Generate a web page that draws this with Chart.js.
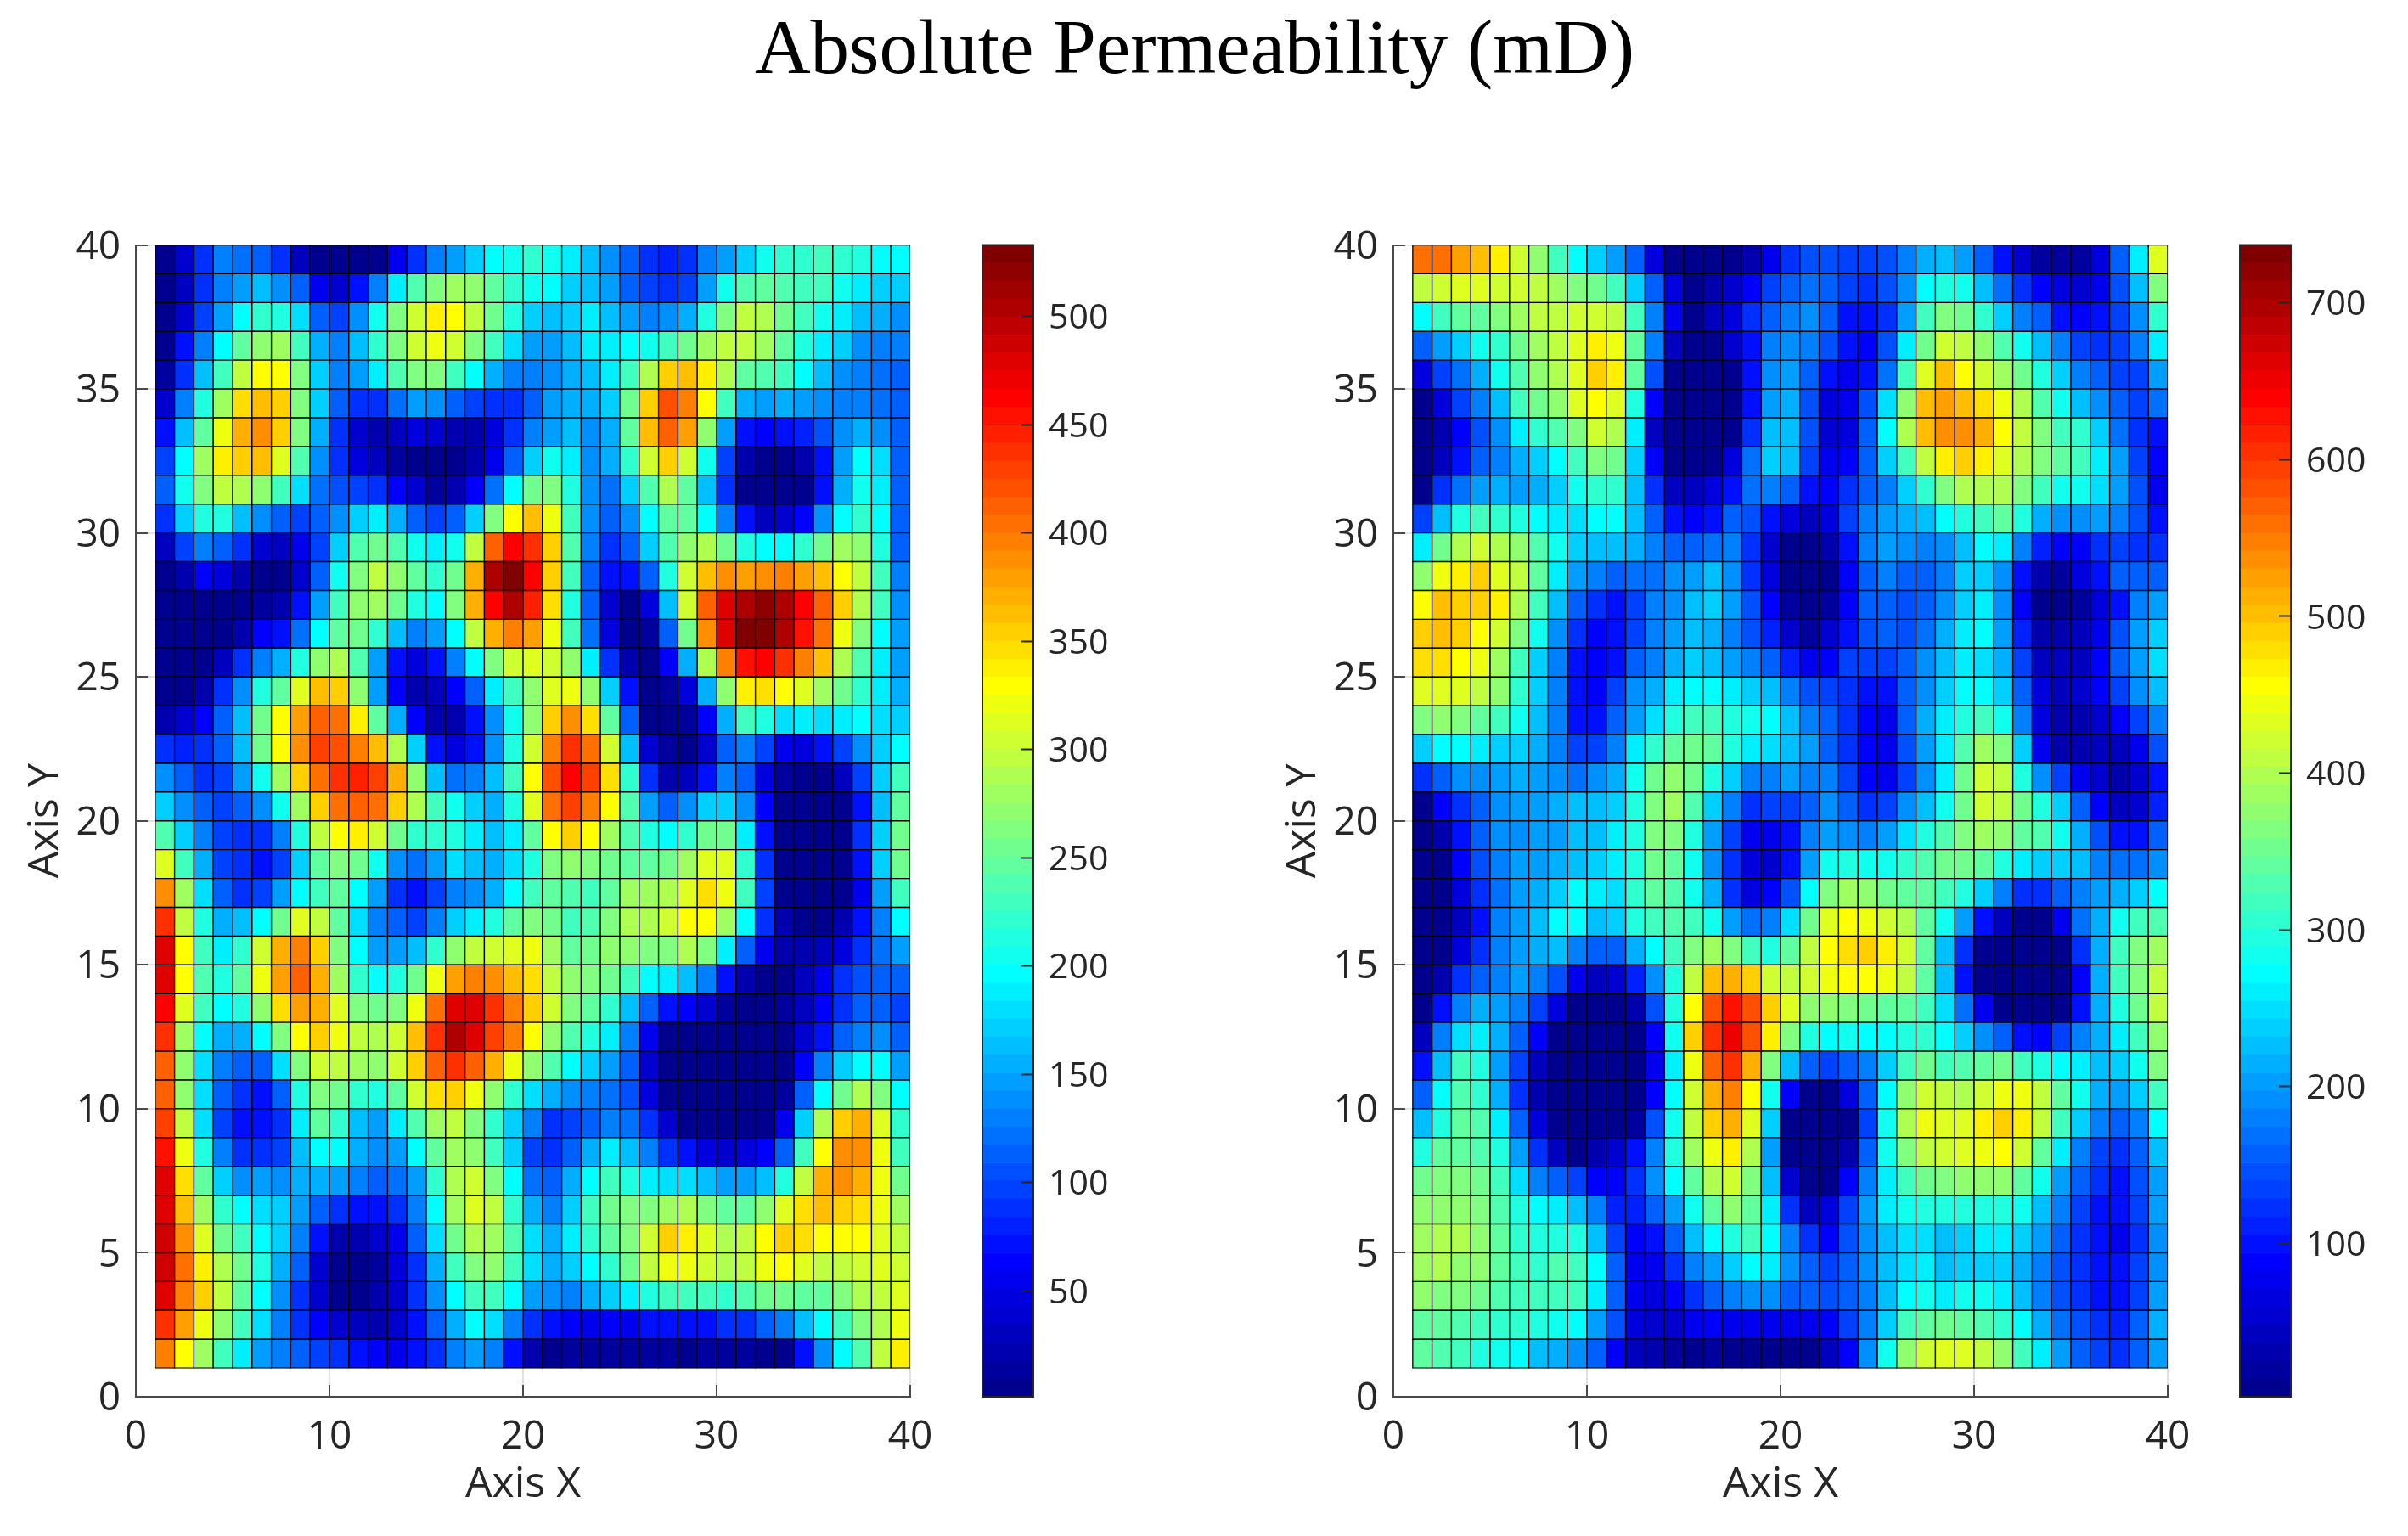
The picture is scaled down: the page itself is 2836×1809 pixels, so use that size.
<!DOCTYPE html>
<html>
<head>
<meta charset="utf-8">
<title>Absolute Permeability (mD)</title>
<script src="https://cdn.jsdelivr.net/npm/chart.js@4"></script>
<style>
  html, body { margin: 0; background: #fff; }
  body { width: 2836px; height: 1809px; position: relative; overflow: hidden; }
  canvas { position: absolute; }
  #title {
    position: absolute; left: 0; top: 3px; width: 2814px; text-align: center;
    font: 91px "Liberation Serif", serif; color: #000;
  }
</style>
</head>
<body>
<div id="title">Absolute Permeability (mD)</div>
<canvas id="mapA"></canvas>
<canvas id="barA"></canvas>
<canvas id="mapB"></canvas>
<canvas id="barB"></canvas>
<script>
// tick labels
const xTicks = [0, 10, 20, 30, 40];
const yTicks = [0, 5, 10, 15, 20, 25, 30, 35, 40];
const barTicksA = [50, 100, 150, 200, 250, 300, 350, 400, 450, 500];
const barTicksB = [100, 200, 300, 400, 500, 600, 700];
const rangeA = [1, 533];
const rangeB = [2, 737];

// permeability, one row per line, top row (y 39-40) first
const permA = [
[5,40,92,127,122,110,85,28,5,5,5,5,55,92,127,150,172,195,205,220,205,188,162,135,112,92,84,92,127,150,175,205,222,222,228,222,212,200,195],
[5,30,85,127,148,162,138,110,52,35,68,127,188,237,262,280,270,245,222,203,195,172,162,150,117,100,92,100,150,203,237,250,240,228,228,203,188,175,170],
[8,35,100,150,195,222,212,178,117,100,140,203,262,305,340,330,297,255,212,175,162,172,188,167,148,130,135,158,212,262,297,288,255,228,203,188,167,153,142],
[8,68,133,195,245,270,280,228,153,133,167,222,262,305,322,305,262,228,178,145,150,167,188,185,195,203,228,255,280,297,297,280,245,212,188,170,138,133,127],
[12,92,167,232,297,330,330,262,172,133,148,185,237,265,262,228,195,153,133,133,138,155,162,185,228,288,355,365,340,288,245,237,228,195,167,138,130,122,112],
[35,133,212,280,347,365,355,262,172,112,85,92,122,150,135,117,100,92,92,117,145,153,155,172,255,355,418,398,330,228,155,148,153,150,138,130,128,120,117],
[75,167,245,322,372,390,352,262,158,92,42,22,28,48,38,25,25,48,85,127,150,162,138,155,245,360,415,381,270,148,75,60,75,84,108,138,155,138,115],
[100,195,280,338,355,365,313,237,142,85,45,28,15,6,5,8,20,52,110,172,203,188,138,153,218,305,355,305,203,100,24,5,6,22,75,150,195,178,117],
[110,203,262,297,288,270,228,178,125,108,98,87,60,35,14,25,60,125,195,255,262,212,135,122,175,237,288,245,167,85,6,5,5,6,75,153,203,185,112],
[92,172,212,212,167,140,115,100,115,138,172,185,155,115,95,112,170,262,330,365,322,228,138,110,138,200,245,245,195,133,68,30,38,60,138,200,222,195,117],
[30,100,133,115,85,35,30,52,100,172,237,255,237,203,188,203,297,415,466,440,352,237,133,92,117,175,237,270,288,255,212,195,200,222,255,280,270,212,115],
[8,20,60,45,24,8,8,35,115,203,262,295,270,245,222,255,372,500,530,466,352,228,117,68,68,117,212,305,365,390,381,390,398,381,360,330,297,228,127],
[8,8,5,5,5,10,20,68,148,228,268,280,255,212,200,262,372,466,500,449,347,212,110,40,8,50,167,305,415,478,500,517,508,466,415,352,288,228,138],
[5,5,5,8,20,60,75,125,198,245,255,218,167,133,145,200,297,372,398,381,322,228,125,50,6,10,117,255,390,483,525,533,508,458,408,322,262,200,145],
[5,5,8,32,85,133,155,212,270,288,237,148,75,50,75,127,200,262,305,313,305,270,185,92,18,8,60,158,288,398,452,466,440,398,360,288,237,188,148],
[5,5,18,85,138,212,245,313,365,357,270,148,60,20,30,60,115,185,228,270,313,322,270,175,68,8,10,50,158,270,340,347,330,313,280,255,222,188,153],
[20,35,60,110,162,255,330,381,415,408,338,245,153,60,20,20,68,135,203,270,352,390,347,245,117,8,8,12,60,158,228,212,183,188,183,188,195,180,175],
[85,80,92,112,165,255,330,390,432,424,398,365,288,172,75,50,75,135,212,305,398,437,408,305,167,35,10,8,35,112,130,100,55,50,68,100,138,172,195],
[135,115,92,100,148,203,280,352,408,440,445,432,372,270,167,125,133,162,228,330,420,466,432,347,222,92,25,30,75,127,112,45,10,8,6,30,100,170,228],
[175,135,112,98,110,135,203,280,357,408,415,408,357,288,228,203,172,158,212,313,408,432,398,330,237,148,112,138,170,175,135,60,8,6,5,6,75,167,245],
[237,172,133,100,92,85,133,212,297,330,340,305,255,222,218,212,188,162,188,245,330,355,330,280,237,212,200,218,255,255,188,68,5,8,5,8,85,170,255],
[313,228,153,100,85,68,100,170,245,262,255,203,138,122,148,178,165,158,178,212,262,270,262,255,250,245,255,280,313,313,222,92,5,5,5,6,75,170,255],
[390,280,180,117,92,100,145,200,228,245,200,145,85,72,100,133,142,158,195,228,245,237,228,245,280,280,288,313,347,322,228,100,5,5,5,6,52,150,228],
[440,297,212,153,162,200,255,313,297,245,180,133,110,100,127,170,188,212,245,262,255,228,237,262,288,288,305,330,330,280,195,92,20,8,6,20,68,133,195],
[483,330,228,192,222,305,372,398,352,262,195,150,145,167,218,270,297,305,313,322,280,245,255,270,270,262,262,288,262,188,110,52,25,18,30,50,85,125,150],
[483,330,237,212,245,322,381,415,375,280,222,200,212,255,322,381,398,390,365,347,297,270,262,255,228,195,188,167,133,68,18,8,8,30,58,85,108,117,110],
[466,313,228,195,212,270,347,381,372,313,262,255,262,322,408,475,478,440,398,352,305,262,245,222,167,110,75,60,40,15,8,6,10,32,62,92,110,117,100],
[440,280,200,153,155,195,262,330,355,322,297,288,305,365,440,500,483,432,398,330,270,237,212,188,127,52,8,5,5,5,5,5,8,35,75,110,130,138,115],
[415,270,183,133,117,117,183,262,305,297,280,270,305,355,415,440,415,372,322,270,237,200,175,148,117,40,5,5,5,6,6,5,8,60,127,170,195,195,148],
[415,270,180,112,85,68,117,212,262,255,222,212,245,305,347,352,322,270,222,178,153,135,130,122,108,50,6,5,5,5,5,8,14,110,200,255,288,262,195],
[432,297,180,100,72,68,92,188,245,222,162,148,188,237,280,297,262,222,170,127,92,96,117,130,125,85,35,5,5,5,5,5,52,170,288,352,372,313,222],
[458,322,212,127,92,85,100,162,200,195,153,135,150,195,245,280,270,228,170,100,92,117,153,188,162,127,92,68,45,35,45,60,117,228,330,390,390,322,228],
[475,347,245,175,138,145,138,153,158,150,127,117,125,150,218,288,305,262,195,122,110,158,200,228,212,188,178,178,162,148,150,167,212,297,372,390,375,322,255],
[483,365,280,218,195,178,175,145,115,92,68,75,92,127,195,280,313,297,218,153,133,175,228,255,262,262,280,288,262,245,245,270,313,347,360,355,350,322,280],
[490,390,313,255,228,200,175,133,72,24,18,35,58,110,178,255,288,280,237,180,153,188,222,245,262,305,352,338,313,288,297,330,355,347,330,330,330,313,297],
[490,408,340,288,255,212,158,112,35,6,5,12,45,92,158,228,262,270,228,180,155,175,195,222,255,297,322,322,305,288,297,322,330,313,297,297,305,313,305],
[475,398,352,297,245,200,135,92,35,6,6,18,40,85,138,195,228,228,195,150,135,133,153,170,188,212,228,228,228,218,237,255,255,245,245,262,288,297,313],
[440,381,322,270,228,180,130,92,60,35,30,25,40,75,117,155,195,180,130,92,68,60,52,66,58,68,72,68,68,85,92,110,133,162,195,228,262,288,322],
[398,330,280,228,188,150,127,110,96,92,75,60,58,68,92,127,150,133,68,18,8,12,12,10,12,12,10,8,12,10,10,8,8,68,135,195,237,297,340]
];

// same for the right map
const permB = [
[560,555,525,503,470,420,373,315,268,238,205,155,65,5,5,5,5,35,75,120,140,140,135,130,140,185,213,228,205,152,95,55,20,15,15,65,152,260,432],
[408,420,432,432,420,420,408,385,362,350,315,238,152,62,8,32,55,85,130,160,170,152,130,118,140,195,268,292,280,225,170,118,85,65,55,72,140,228,362],
[268,315,338,338,362,385,408,408,420,420,408,315,178,75,10,38,65,118,160,185,190,160,105,95,118,200,315,362,350,305,238,185,152,105,85,95,130,190,305],
[152,200,235,280,305,350,385,408,432,470,445,338,175,45,8,12,58,105,175,195,175,140,105,92,140,255,350,420,408,373,325,280,228,175,130,118,135,175,258],
[65,130,170,210,280,325,373,397,432,485,470,338,140,10,5,8,8,105,190,200,158,105,80,105,170,315,432,497,455,420,385,350,292,232,175,152,130,130,200],
[10,65,130,175,222,315,350,373,432,455,432,292,85,10,5,5,10,105,205,213,140,65,75,140,250,373,497,525,503,478,445,397,325,280,228,190,152,130,165],
[8,30,85,140,190,258,305,325,362,420,397,258,45,8,5,5,8,118,228,222,140,58,65,152,268,397,497,537,537,510,455,408,362,315,305,238,170,118,105],
[5,38,100,152,182,210,240,268,315,362,350,232,85,10,5,5,62,165,238,225,130,72,92,152,232,315,408,465,490,470,432,397,362,338,315,258,200,130,92],
[8,118,170,198,213,200,210,238,280,305,305,222,118,38,45,65,105,165,175,152,105,85,118,160,185,235,305,362,397,397,397,362,315,280,280,245,205,140,78],
[130,225,292,315,305,292,268,258,245,268,268,228,160,105,85,105,152,140,100,65,45,65,130,185,200,213,225,268,292,315,338,292,213,187,195,198,175,140,105],
[258,350,397,420,397,373,325,280,238,225,228,218,175,152,160,165,175,118,58,12,5,32,105,175,200,190,175,195,222,268,258,175,115,92,85,118,135,125,125],
[373,445,470,485,432,408,338,258,205,185,158,170,170,187,205,222,195,118,62,5,3,10,85,155,182,160,155,182,232,240,190,100,28,20,65,100,152,158,155],
[455,497,490,490,462,397,315,225,160,118,105,135,175,190,225,240,200,148,85,15,3,15,85,155,162,140,152,190,238,255,190,85,5,5,15,60,105,175,198],
[485,497,485,455,420,362,280,187,118,85,105,135,175,205,225,218,185,140,110,55,22,50,105,140,158,140,170,213,255,268,205,110,30,30,45,75,140,198,235],
[478,478,455,445,385,315,238,175,100,85,105,155,182,213,238,228,198,175,155,110,75,92,130,135,130,152,187,222,255,248,213,135,45,45,45,85,158,205,248],
[432,432,432,408,373,305,238,185,105,92,130,187,210,255,268,268,258,240,228,178,148,135,118,105,105,152,190,235,268,268,240,152,65,45,50,85,135,190,225],
[362,373,362,338,315,280,228,175,105,105,155,200,250,292,315,315,292,280,268,228,182,158,118,85,72,152,210,258,292,315,280,175,65,35,35,50,85,130,175],
[238,268,268,258,238,232,213,175,135,130,175,258,305,338,350,338,298,258,245,228,200,160,118,85,72,140,200,255,325,385,362,232,72,32,32,40,45,78,140],
[118,160,187,187,200,210,205,187,170,187,218,280,350,373,350,298,238,182,175,198,182,175,130,92,80,130,190,255,350,420,408,292,187,130,78,50,32,50,100],
[10,85,118,160,190,200,200,210,222,222,240,298,362,385,325,238,175,118,130,130,160,187,152,118,130,187,222,280,350,420,408,350,292,232,155,85,45,52,110],
[5,30,100,152,190,190,200,205,225,225,255,298,362,362,292,198,130,75,72,100,175,200,190,175,198,245,292,325,362,385,373,338,325,280,218,140,95,105,152],
[5,8,85,140,185,200,200,218,225,235,258,298,350,338,280,195,118,65,50,100,200,280,292,280,280,305,325,350,350,338,292,258,238,240,222,185,165,165,195],
[5,5,60,118,170,205,210,238,268,255,245,305,338,325,280,218,118,65,85,140,268,362,385,373,350,338,338,315,292,235,175,118,125,152,185,200,210,238,268],
[5,5,40,105,175,205,225,268,268,228,240,292,315,325,315,280,205,165,175,245,350,432,455,445,420,397,338,280,198,105,45,8,8,75,165,218,280,315,325],
[5,5,65,118,175,205,213,222,185,152,162,213,268,315,362,385,362,315,292,338,408,455,480,485,470,420,338,222,118,8,5,5,5,10,118,210,315,362,385],
[5,25,118,155,175,198,182,140,72,38,55,110,187,292,408,503,518,485,420,408,420,445,455,455,445,408,338,222,105,8,5,5,5,8,85,210,315,362,408],
[5,105,175,210,198,182,130,65,8,8,5,28,140,292,455,583,630,583,490,432,373,373,362,350,338,338,315,245,165,72,5,5,5,8,105,210,292,350,408],
[38,175,245,255,210,152,85,12,5,5,5,5,85,280,490,605,653,583,465,362,292,268,280,268,268,292,305,268,238,195,160,100,85,135,175,213,258,315,373],
[100,222,315,292,200,130,45,10,5,5,5,5,72,255,445,572,605,518,362,222,152,130,152,175,235,315,350,315,325,338,350,315,292,268,258,225,238,280,362],
[155,268,325,305,218,118,30,8,5,5,5,5,85,268,420,513,548,455,280,85,5,8,60,155,268,373,420,408,397,420,445,445,408,338,280,210,205,232,315],
[222,298,338,325,258,160,65,10,5,5,5,20,140,280,408,485,513,432,232,10,5,10,8,130,280,397,445,432,432,470,490,470,408,315,238,175,152,185,268],
[292,338,338,325,292,205,118,45,10,30,55,105,185,292,385,445,470,397,200,12,5,8,30,155,280,362,408,420,432,445,455,420,338,258,175,130,118,155,222],
[350,362,362,350,315,245,182,152,130,92,92,125,195,268,338,397,420,362,222,55,8,8,85,182,258,315,350,362,373,373,373,338,280,200,152,118,95,140,205],
[373,373,373,362,325,292,268,258,228,175,110,115,152,205,280,338,373,338,258,125,38,65,130,198,258,280,292,292,292,292,292,280,228,185,135,105,100,130,198],
[385,397,397,373,338,305,292,298,292,228,135,85,100,155,228,268,292,315,268,175,118,92,140,190,222,245,245,228,238,255,255,238,200,155,125,95,75,118,187],
[385,397,373,373,338,315,305,325,315,268,155,78,78,118,175,200,235,268,255,190,152,135,155,187,222,250,255,228,238,232,235,213,175,140,118,100,105,130,190],
[373,362,362,350,325,315,315,315,315,258,160,75,65,85,118,155,175,187,187,160,155,140,152,185,222,268,280,262,280,280,258,228,185,140,118,105,105,135,198],
[338,338,325,315,305,305,292,280,268,200,140,65,50,55,72,85,78,78,80,80,80,92,130,175,232,315,338,350,338,325,305,268,213,165,140,118,115,152,213],
[338,325,315,298,280,268,228,218,195,155,92,45,30,18,10,20,8,8,10,10,5,45,92,187,280,373,420,432,432,408,373,315,258,198,160,130,118,155,200]
];

const INK = '#262626';
const LEVELS = 64;

// matlab jet(64)
function jet(i) {
  const t = (i + 1) / LEVELS;
  const ch = c => Math.round(255 * Math.min(1, Math.max(0, 1.5 - Math.abs(4 * t - c))));
  return `rgb(${ch(3)},${ch(2)},${ch(1)})`;
}

function levelColor(v, range) {
  const i = Math.floor((v - range[0]) / (range[1] - range[0]) * LEVELS);
  return jet(Math.min(LEVELS - 1, Math.max(0, i)));
}

const fixedTicks = list => scale => { scale.ticks = list.map(value => ({ value })); };

// fixed box size and no label overhang, so the plot area lands where the padding says
const fixBox = (side, size) => s => {
  s[side] = size;
  s.paddingLeft = s.paddingRight = s.paddingTop = s.paddingBottom = 0;
};

function axisOptions(position, ticks, title, size, pad, labelOffset) {
  return {
    type: 'linear', position, min: 0, max: 40, offset: false,
    afterBuildTicks: fixedTicks(ticks),
    afterFit: fixBox(position === 'left' ? 'width' : 'height', size),
    grid: { offset: false, color: '#e2e2e2', lineWidth: 2, tickColor: '#4a4a4a', tickWidth: 2, tickLength: -14 },
    border: { color: '#4a4a4a', width: 2 },
    ticks: { color: INK, font: { family: 'Open Sans', size: 46 }, padding: pad, labelOffset, autoSkip: false, maxRotation: 0, minRotation: 0 },
    title: { display: true, text: title, color: INK, font: { family: 'Open Sans', size: 50 }, padding: { top: 4, bottom: 21 } },
  };
}

function drawMap(id, rows, range, left) {
  const el = document.getElementById(id);
  el.width = 1100; el.height = 1542;
  el.style.left = left + 'px'; el.style.top = '258px';

  const cells = [];
  rows.forEach((row, r) => row.forEach((v, c) => {
    cells.push({ x: c + 1.5, y: [39 - r, 40 - r], v });
  }));

  new Chart(el, {
    type: 'bar',
    data: {
      datasets: [{
        data: cells,
        backgroundColor: cells.map(d => levelColor(d.v, range)),
        // inflate by half the border so neighbours share one line and no white shows through
        borderColor: '#000', borderWidth: 1.4, borderSkipped: false,
        inflateAmount: 0.7, barPercentage: 1, categoryPercentage: 1,
      }],
    },
    options: {
      responsive: false, animation: false,
      layout: { padding: { top: 30.5, right: 48, left: 0, bottom: 0 } },
      plugins: { legend: { display: false }, tooltip: { enabled: false } },
      scales: {
        x: axisOptions('bottom', xTicks, 'Axis X', 155, 34, 0),
        y: axisOptions('left', yTicks, 'Axis Y', 140, 32, 3),
      },
    },
  });
}

function drawBar(id, range, ticks, left) {
  const el = document.getElementById(id);
  el.width = 210; el.height = 1407;
  el.style.left = left + 'px'; el.style.top = '258px';

  const datasets = [];
  for (let i = 0; i < LEVELS; i++) {
    const step = (range[1] - range[0]) / LEVELS;
    datasets.push({
      data: [[range[0] + i * step, range[0] + (i + 1) * step]],
      backgroundColor: jet(i), borderWidth: 0, inflateAmount: 0.3,
      barPercentage: 1, categoryPercentage: 1, grouped: false,
    });
  }

  new Chart(el, {
    type: 'bar',
    data: { labels: [''], datasets },
    options: {
      responsive: false, animation: false,
      layout: { padding: { top: 30.5, left: 10, right: 0, bottom: 20 } },
      plugins: { legend: { display: false }, tooltip: { enabled: false } },
      scales: {
        x: { display: false },
        y: {
          position: 'right', min: range[0], max: range[1],
          afterBuildTicks: fixedTicks(ticks),
          afterFit: fixBox('width', 140),
          grid: { drawOnChartArea: false, z: 1, tickColor: INK, tickWidth: 2, tickLength: -14 },
          border: { display: false },
          ticks: { color: INK, font: { family: 'Open Sans', size: 41 }, padding: 32, labelOffset: 3, autoSkip: false },
        },
      },
    },
    plugins: [{
      id: 'frame',
      afterDatasetsDraw(chart) {
        const { ctx, chartArea: a } = chart;
        ctx.save();
        ctx.strokeStyle = INK; ctx.lineWidth = 2;
        ctx.strokeRect(a.left, a.top, a.right - a.left, a.bottom - a.top);
        ctx.restore();
      },
    }],
  });
}

drawMap('mapA', permA, rangeA, 20);
drawBar('barA', rangeA, barTicksA, 1147);
drawMap('mapB', permB, rangeB, 1501);
drawBar('barB', rangeB, barTicksB, 2628);
</script>
</body>
</html>
